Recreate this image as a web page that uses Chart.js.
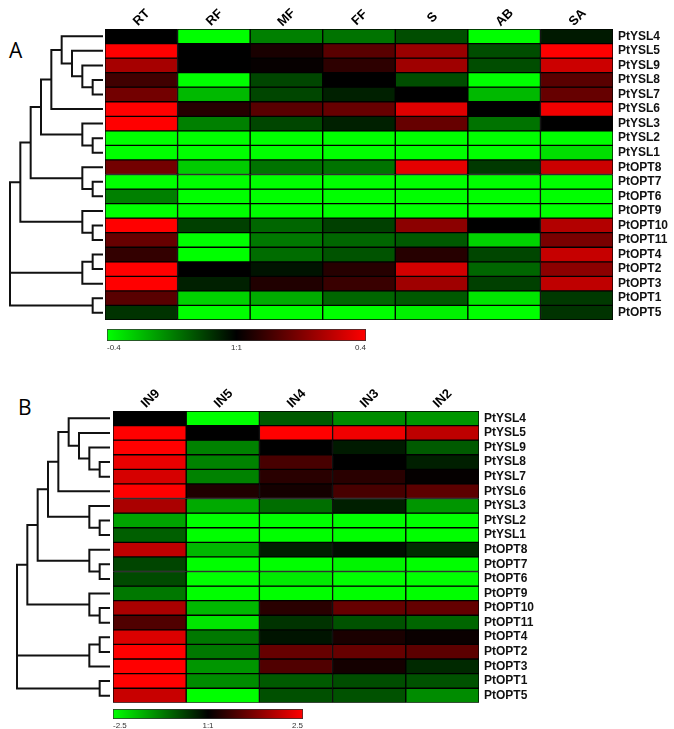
<!DOCTYPE html>
<html>
<head>
<meta charset="utf-8">
<script src="https://cdn.jsdelivr.net/npm/chart.js@4.4.1/dist/chart.umd.min.js"></script>
<style>
  html, body { margin: 0; padding: 0; background: #fff; }
  #wrap { position: relative; width: 674px; height: 729px; overflow: hidden; }
  canvas { position: absolute; }
  .tag { position: absolute; font: 21px "Open Sans", sans-serif; color: #000; }
  .col { position: absolute; font: bold 13px 'Liberation Sans', Arial, sans-serif; color: #000;
         white-space: nowrap; line-height: 1; transform: translate(-50%, -50%) rotate(-45deg); }
</style>
</head>
<body>
<div id="wrap">
  <div class="tag" style="left:9px;top:36px">A</div>
  <div class="tag" style="left:18px;top:393px">B</div>
  <canvas id="heatA" width="674" height="335" style="left:0;top:0"></canvas>
  <canvas id="treeA" width="105" height="335" style="left:0;top:0"></canvas>
  <canvas id="scaleA" width="280" height="32" style="left:100px;top:322px"></canvas>
  <canvas id="heatB" width="674" height="355" style="left:0;top:360px"></canvas>
  <canvas id="treeB" width="113" height="355" style="left:0;top:360px"></canvas>
  <canvas id="scaleB" width="215" height="27" style="left:100px;top:702px"></canvas>
</div>
<script>
// rows are the same genes, same order, in both panels
const genes = ["PtYSL4","PtYSL5","PtYSL9","PtYSL8","PtYSL7","PtYSL6","PtYSL3","PtYSL2","PtYSL1",
  "PtOPT8","PtOPT7","PtOPT6","PtOPT9","PtOPT10","PtOPT11","PtOPT4","PtOPT2","PtOPT3","PtOPT1","PtOPT5"];

// panel A: tissues
const tissues = ["RT","RF","MF","FF","S","AB","SA"];
const valsA = [
  [0, -0.4, -0.2, -0.18, -0.12, -0.4, -0.04],
  [0.4, 0, 0.04, 0.14, 0.24, -0.12, 0.4],
  [0.26, 0, 0.01, 0.07, 0.25, -0.12, 0.32],
  [0.1, -0.4, -0.11, 0, -0.12, -0.4, 0.14],
  [0.18, -0.29, -0.11, -0.05, 0, -0.29, 0.16],
  [0.4, 0.06, 0.14, 0.16, 0.35, 0, 0.38],
  [0.4, -0.2, -0.11, -0.05, 0.16, -0.18, 0],
  [-0.4, -0.4, -0.4, -0.4, -0.4, -0.4, -0.4],
  [-0.4, -0.4, -0.4, -0.4, -0.4, -0.4, -0.35],
  [0.18, -0.32, -0.18, -0.18, 0.36, -0.09, 0.32],
  [-0.4, -0.4, -0.4, -0.4, -0.4, -0.4, -0.4],
  [-0.2, -0.4, -0.4, -0.4, -0.4, -0.4, -0.4],
  [-0.4, -0.4, -0.4, -0.4, -0.4, -0.4, -0.4],
  [0.4, -0.1, -0.16, -0.1, 0.22, 0, 0.28],
  [0.16, -0.4, -0.19, -0.16, -0.14, -0.33, 0.19],
  [0.08, -0.4, -0.17, -0.13, 0.06, -0.11, 0.31],
  [0.4, 0, -0.03, 0.06, 0.33, -0.16, 0.22],
  [0.4, -0.05, 0.05, 0.09, 0.25, -0.1, 0.3],
  [0.14, -0.33, -0.27, -0.16, -0.14, -0.36, -0.09],
  [-0.08, -0.4, -0.4, -0.4, -0.38, -0.4, -0.08]
];
const maxA = 0.4;
const scaleTicksA = [-0.4, 0, 0.4];
const scaleTextA = ["-0.4", "1:1", "0.4"];

// panel B: internodes
const internodes = ["IN9","IN5","IN4","IN3","IN2"];
const valsB = [
  [0, -2.5, -0.88, -1.37, -1.47],
  [2.5, 0, 2.5, 2.35, 1.86],
  [2.5, -1.27, 0, -0.25, -0.88],
  [2.3, -1.27, 0.7, 0, -0.3],
  [2.1, -1.27, 0.4, 0.4, 0.05],
  [2.5, 0.3, 0.2, 0.7, 0.9],
  [1.67, -1.67, -1.08, -0.3, -1.47],
  [-1.6, -2.5, -2.5, -2.5, -2.5],
  [-0.93, -2.5, -2.5, -2.5, -2.5],
  [1.86, -1.8, -0.3, -0.15, -0.44],
  [-0.68, -2.5, -2.5, -2.4, -2.5],
  [-0.73, -2.5, -2.3, -2.5, -2.5],
  [-1.18, -2.5, -2.5, -2.5, -2.5],
  [1.67, -1.8, 0.4, 1.0, 0.98],
  [0.78, -2.25, -0.5, -0.8, -1.0],
  [2.15, -1.18, -0.2, 0.25, 0.1],
  [2.5, -1.18, 1.0, 1.0, 0.9],
  [2.5, -1.47, 0.78, 0.2, -0.4],
  [2.5, -1.37, -0.88, -0.75, -0.8],
  [1.96, -2.5, -0.78, -0.8, -1.37]
];
const maxB = 2.5;
const scaleTicksB = [-2.5, 0, 2.5];
const scaleTextB = ["-2.5", "1:1", "2.5"];

// dendrogram merges: [child, child, level]; ids >= 20 are earlier merges
const merges = [
  [3, 4, 1], [2, 20, 2], [1, 21, 3], [0, 22, 4], [23, 5, 5],
  [7, 8, 1], [6, 25, 2], [24, 26, 6],
  [10, 11, 1], [9, 28, 2], [27, 29, 7],
  [13, 14, 1], [12, 31, 2], [30, 32, 8],
  [15, 16, 1], [34, 17, 2], [18, 19, 1], [35, 36, 9], [33, 37, 9]
];
const treeMaxLevel = 9;

const FONT = "'Liberation Sans', Arial, sans-serif";

function heatColor(v, max) {
  const t = Math.max(-1, Math.min(1, v / max));
  const c = Math.round(Math.abs(t) * 255);
  return t < 0 ? `rgb(0,${c},0)` : `rgb(${c},0,0)`;
}

function makeHeat(id, cols, vals, max, box) {
  const canvas = document.getElementById(id);
  const chart = new Chart(canvas, {
    type: "bar",
    data: {
      labels: cols,
      datasets: genes.map((g, i) => ({
        label: g,
        data: cols.map(() => 1),
        backgroundColor: vals[i].map(v => heatColor(v, max)),
        borderColor: "#000", borderWidth: 1, borderSkipped: false,
        barPercentage: 1, categoryPercentage: 1
      }))
    },
    options: {
      responsive: false, animation: false, devicePixelRatio: 1,
      layout: { padding: box.pad },
      plugins: { legend: { display: false }, tooltip: { enabled: false } },
      scales: {
        x: {
          position: "top", stacked: true,
          grid: { display: false, drawTicks: false }, border: { display: false },
          ticks: { display: false },
          afterFit: s => { s.height = box.axisTop; }
        },
        y: { stacked: true, display: false, min: 0, max: genes.length, reverse: true },
        yr: {
          type: "category", position: "right", labels: genes, offset: true,
          grid: { display: false, drawTicks: false }, border: { display: false },
          ticks: { color: "#111", font: { family: FONT, size: 12, weight: "bold" }, padding: 5, autoSkip: false },
          afterFit: s => { s.width = box.axisRight; }
        }
      }
    }
  });
  // slanted column titles, placed over the x scale ticks
  const wrap = document.getElementById("wrap");
  const x0 = canvas.offsetLeft, y0 = canvas.offsetTop;
  cols.forEach((lab, i) => {
    const d = document.createElement("div");
    d.className = "col";
    d.textContent = lab;
    d.style.left = (x0 + chart.scales.x.getPixelForTick(i)) + "px";
    d.style.top = (y0 + chart.chartArea.top - box.lift) + "px";
    wrap.appendChild(d);
  });
  return chart;
}

function makeTree(id, pad) {
  const y = [], lv = [];
  genes.forEach((g, i) => { y[i] = i + 0.5; lv[i] = 0; });
  merges.forEach(([a, b, h], k) => { y[genes.length + k] = (y[a] + y[b]) / 2; lv[genes.length + k] = h; });
  return new Chart(document.getElementById(id), {
    type: "scatter",
    data: {
      datasets: merges.map(([a, b, h]) => ({
        data: [{ x: lv[a], y: y[a] }, { x: h, y: y[a] }, { x: h, y: y[b] }, { x: lv[b], y: y[b] }],
        showLine: true, borderColor: "#111", borderWidth: 2, pointRadius: 0, clip: false
      }))
    },
    options: {
      responsive: false, animation: false, devicePixelRatio: 1,
      layout: { padding: pad },
      plugins: { legend: { display: false }, tooltip: { enabled: false } },
      scales: {
        x: { type: "linear", display: false, min: 0, max: treeMaxLevel, reverse: true },
        y: { type: "linear", display: false, min: 0, max: genes.length, reverse: true }
      }
    }
  });
}

function makeScale(id, ticksArr, tickText, pad, axisH) {
  const lo = ticksArr[0], hi = ticksArr[ticksArr.length - 1];
  return new Chart(document.getElementById(id), {
    type: "bar",
    data: {
      labels: [""],
      datasets: [{
        data: [[lo, hi]],
        backgroundColor: c => {
          const a = c.chart.chartArea;
          if (!a) return "#000";
          const g = c.chart.ctx.createLinearGradient(a.left, 0, a.right, 0);
          g.addColorStop(0, "#00ff00"); g.addColorStop(0.5, "#000000"); g.addColorStop(1, "#ff0000");
          return g;
        },
        borderColor: "#333", borderWidth: 1, borderSkipped: false,
        barPercentage: 1, categoryPercentage: 1
      }]
    },
    options: {
      indexAxis: "y", responsive: false, animation: false, devicePixelRatio: 1,
      layout: { padding: pad },
      plugins: { legend: { display: false }, tooltip: { enabled: false } },
      scales: {
        x: {
          min: lo, max: hi,
          grid: { display: false, drawTicks: false }, border: { display: false },
          ticks: { color: "#333", font: { family: FONT, size: 8 }, padding: 2, align: "inner",
            callback: (v, i) => tickText[i] },
          afterBuildTicks: s => { s.ticks = ticksArr.map(v => ({ value: v })); },
          afterFit: s => { s.height = axisH; }
        },
        y: { display: false }
      }
    }
  });
}

makeHeat("heatA", tissues, valsA, maxA,
  { pad: { left: 105, right: 0, top: 0, bottom: 15 }, axisTop: 29, axisRight: 61, lift: 12.5 });
makeTree("treeA", { left: 10, right: 2, top: 29, bottom: 15 });
makeScale("scaleA", scaleTicksA, scaleTextA, { left: 7, right: 14, top: 7, bottom: 0 }, 13);

makeHeat("heatB", internodes, valsB, maxB,
  { pad: { left: 113, right: 134, top: 0, bottom: 12 }, axisTop: 51, axisRight: 61, lift: 13.5 });
makeTree("treeB", { left: 17, right: 3, top: 51, bottom: 12 });
makeScale("scaleB", scaleTicksB, scaleTextB, { left: 13, right: 12, top: 7, bottom: 0 }, 10);
</script>
</body>
</html>
